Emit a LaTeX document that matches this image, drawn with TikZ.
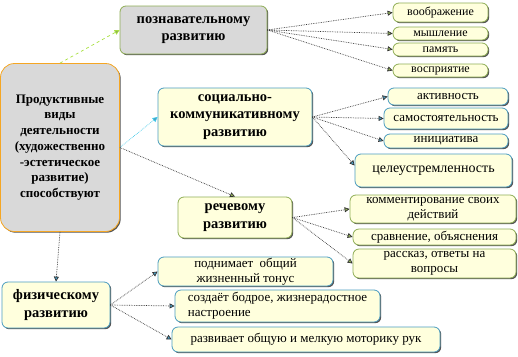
\documentclass[tikz,border=0pt]{standalone}
\usepackage{fontspec}
\setmainfont{Liberation Serif}
\newfontfamily\tnr{Liberation Serif}
\usetikzlibrary{arrows.meta,shadows}
\definecolor{gfill}{HTML}{D9D9D9}
\definecolor{yfill}{HTML}{FFFFDD}
\definecolor{gbord}{HTML}{8FAE55}
\definecolor{bbord}{HTML}{4A9CC0}
\definecolor{obord}{HTML}{F5A623}
\definecolor{lgreen}{HTML}{A8E040}
\definecolor{lcyan}{HTML}{40C8E8}
\tikzset{
  box/.style={draw, rounded corners=6pt, line width=0.8pt, align=center, inner sep=0pt,
    drop shadow={shadow xshift=1.2pt, shadow yshift=-1.2pt, fill=black!75, opacity=0.9}},
  gbox/.style={box, fill=yfill, draw=gbord},
  bbox/.style={box, fill=yfill, draw=bbord},
  title/.style={font=\tnr\fontsize{14.5}{17.5}\selectfont\bfseries},
  small/.style={font=\tnr\fontsize{13}{15}\selectfont},
  tiny/.style={font=\tnr\fontsize{12}{14}\selectfont},
  conn/.style={densely dotted, line width=0.7pt, -{Triangle[length=5pt,width=5pt]}},
  gconn/.style={conn, draw=black!80, arrows={-{Triangle[length=5pt,width=5pt,fill=gbord]}}},
  bconn/.style={conn, draw=black!80, arrows={-{Triangle[length=5pt,width=5pt,fill=bbord]}}},
}
\begin{document}
\begin{tikzpicture}[x=1pt,y=-1pt]
\useasboundingbox (0,0) rectangle (518,356);
% main
\node[box, fill=gfill, draw=obord, rounded corners=14pt, minimum width=119pt, minimum height=168pt,
  font=\tnr\fontsize{13}{15.7}\selectfont\bfseries] (main) at (60,147.5)
  {Продуктивные\\виды\\деятельности\\(художественно\\-эстетическое\\развитие)\\способствуют};
% cognitive
\node[box, fill=gfill, draw=gbord, minimum width=147pt, minimum height=48pt, title] (pozn) at (193.5,30)
  {познавательному\\развитию};
\node[gbox, minimum width=95pt, minimum height=19pt, tiny] (vo) at (440.5,12.5) {воображение};
\node[gbox, minimum width=95pt, minimum height=13pt, tiny] (my) at (440.5,33.5) {мышление};
\node[gbox, minimum width=95pt, minimum height=13pt, tiny] (pa) at (440.5,49.5) {память};
\node[gbox, minimum width=95pt, minimum height=13pt, tiny] (vos) at (440.5,70.5) {восприятие};
% social
\node[bbox, minimum width=154pt, minimum height=58pt, title] (soc) at (235,117)
  {социально-\\коммуникативному\\развитию};
\node[bbox, minimum width=120pt, minimum height=17pt, small] (akt) at (448,96.5) {активность};
\node[bbox, minimum width=124pt, minimum height=21pt, small] (sam) at (446,118.5) {самостоятельность};
\node[bbox, minimum width=124pt, minimum height=14pt, small] (ini) at (446,141) {инициатива};
\node[bbox, minimum width=157pt, minimum height=33pt, font=\tnr\fontsize{14}{16}\selectfont] (cel) at (433.5,170.5) {целеустремленность};
% speech
\node[gbox, minimum width=114pt, minimum height=41pt, title] (rech) at (235,217.5)
  {речевому\\развитию};
\node[gbox, minimum width=166pt, minimum height=28pt, small] (kom) at (433,209)
  {комментирование своих\\действий};
\node[gbox, minimum width=163pt, minimum height=16pt, small] (srav) at (434.5,237) {сравнение, объяснения};
\node[gbox, minimum width=163pt, minimum height=29pt, small] (ras) at (434.5,263.5)
  {рассказ, ответы на\\вопросы};
% physical
\node[bbox, minimum width=108pt, minimum height=46pt, title] (fiz) at (56,305)
  {физическому\\развитию};
\node[bbox, minimum width=175pt, minimum height=29pt, small] (pod) at (245.5,271.5)
  {поднимает\ \ общий\\жизненный тонус};
\node[bbox, minimum width=205pt, minimum height=32pt, small, align=left] (soz) at (277.5,306)
  {создаёт бодрое, жизнерадостное\\настроение};
\node[bbox, minimum width=268pt, minimum height=25pt, small] (raz) at (306,339.5)
  {развивает общую и мелкую моторику рук};
% connectors from main
\draw[conn, draw=lgreen, dashed, arrows={-{Triangle[length=5pt,width=5pt,fill=gbord]}}] (main.north) -- (pozn.west);
\draw[conn, draw=lcyan, arrows={-{Triangle[length=5pt,width=5pt,fill=bbord]}}] (main.east) -- (soc.west);
\draw[gconn] (main.east) -- (rech.north);
\draw[bconn] (main.south) -- (fiz.north);
% cognitive children
\foreach \t in {vo,my,pa,vos} \draw[gconn] (pozn.east) -- (\t.west);
% social children
\foreach \t in {akt,sam,ini} \draw[bconn] (soc.east) -- (\t.west);
\draw[bconn] (soc.east) -- ([yshift=5pt]cel.west);
% speech children
\foreach \t in {kom,srav,ras} \draw[gconn] (rech.east) -- (\t.west);
% physical children
\foreach \t in {pod,soz,raz} \draw[bconn] (fiz.east) -- (\t.west);
\end{tikzpicture}
\end{document}
